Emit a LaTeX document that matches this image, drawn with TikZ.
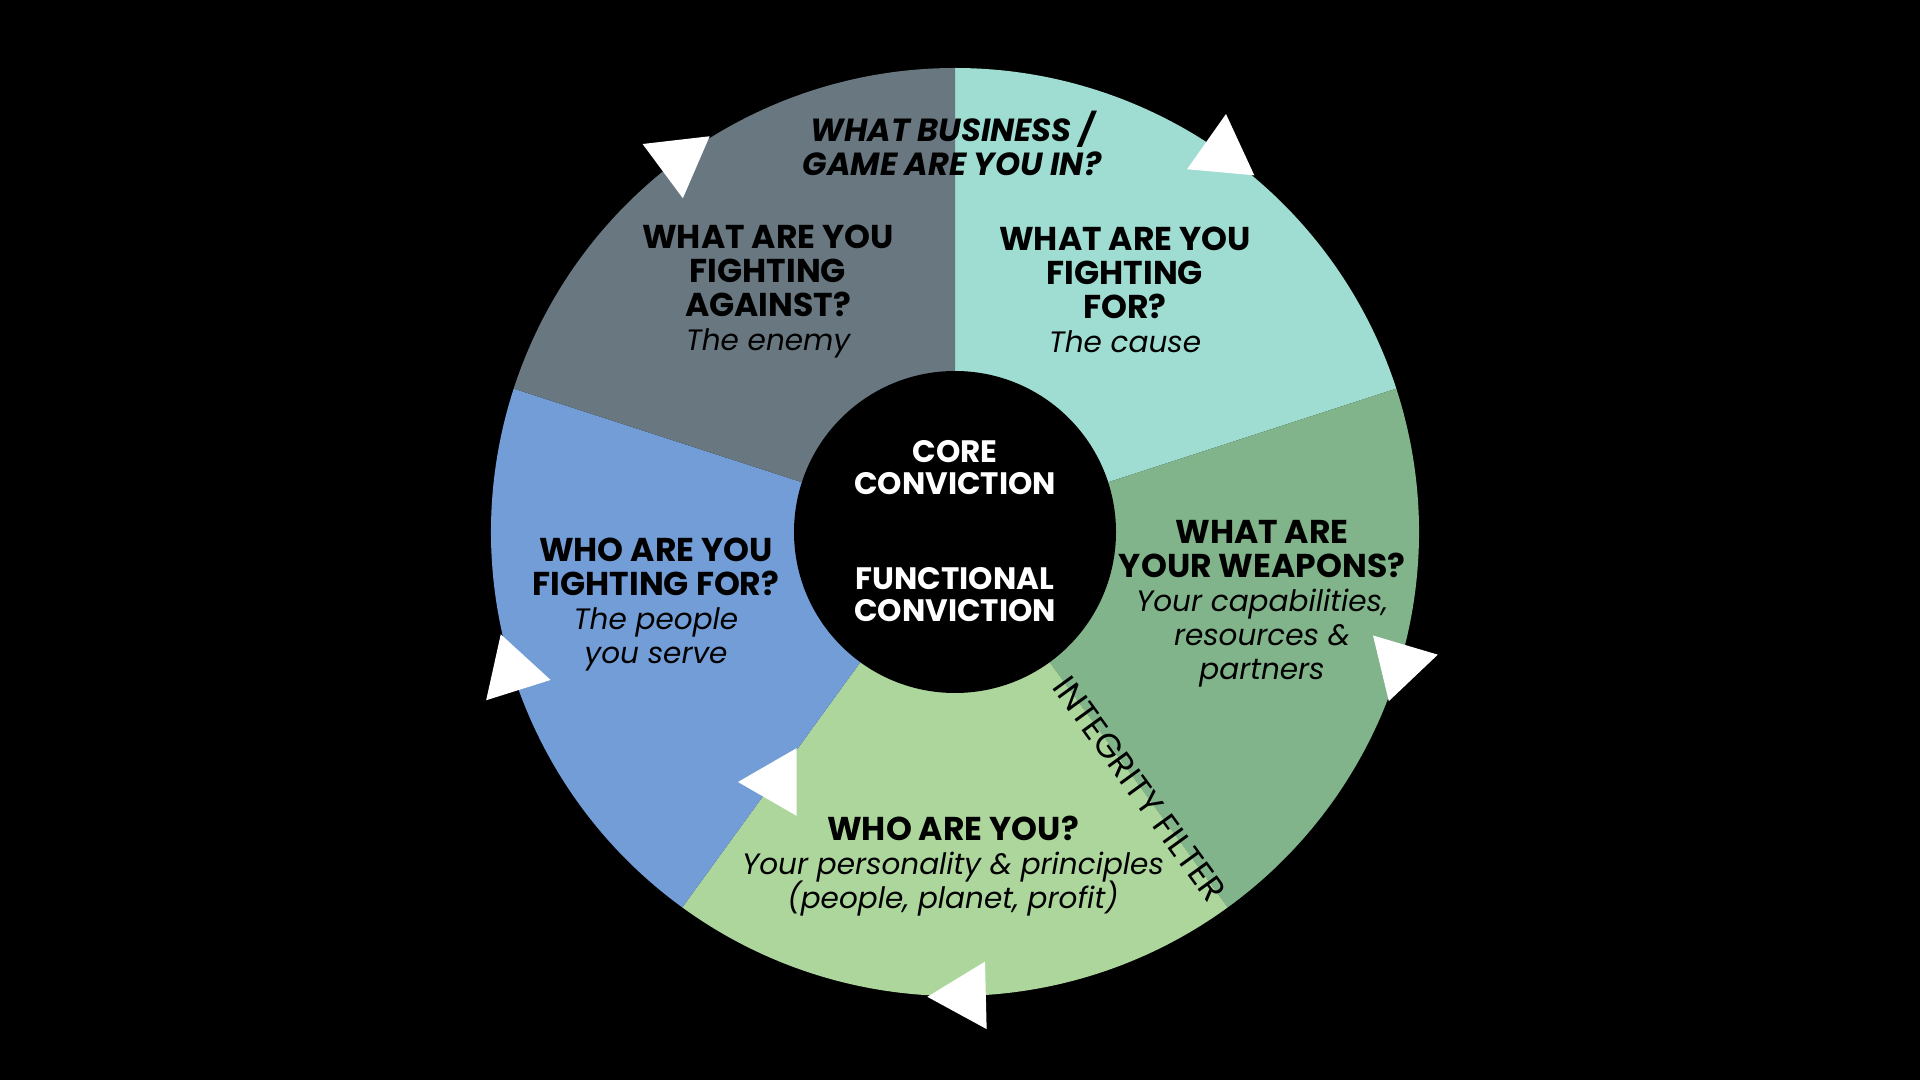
\documentclass[tikz,border=0pt]{standalone}
\usepackage{fontspec}
\setmainfont{Poppins}
\usetikzlibrary{calc}
\definecolor{cgrey}{RGB}{104,119,128}
\definecolor{cteal}{RGB}{159,221,210}
\definecolor{cdgreen}{RGB}{129,180,139}
\definecolor{clgreen}{RGB}{173,214,157}
\definecolor{cblue}{RGB}{114,157,214}
\newcommand{\hb}[1]{{\fontsize{33}{34}\selectfont\bfseries #1}}
\newcommand{\hi}[1]{{\fontsize{29.5}{34}\selectfont\itshape #1}}
\newcommand{\hbi}[1]{{\fontsize{32}{34}\selectfont\bfseries\itshape #1}}
\tikzset{
  lbl/.style={align=center, inner sep=0pt, text=black, font=\fontsize{31}{34}\selectfont},
  clbl/.style={align=center, inner sep=0pt, text=white, font=\fontsize{31}{32}\selectfont\bfseries},
  tri/.style={fill=white},
}
\newcommand{\wedgeR}{464}
\begin{document}
\lineskiplimit=-100pt
\begin{tikzpicture}[x=1pt,y=1pt]
\useasboundingbox (0,0) rectangle (1920,1080);
\fill[black] (0,0) rectangle (1920,1080);
\coordinate (C) at (955,548);
% segments
\fill[cteal]   (C) -- ++(90:\wedgeR)   arc[start angle=90,  end angle=18,   radius=\wedgeR] -- cycle;
\fill[cdgreen] (C) -- ++(18:\wedgeR)   arc[start angle=18,  end angle=-54,  radius=\wedgeR] -- cycle;
\fill[clgreen] (C) -- ++(-54:\wedgeR)  arc[start angle=-54, end angle=-126, radius=\wedgeR] -- cycle;
\fill[cblue]   (C) -- ++(-126:\wedgeR) arc[start angle=-126,end angle=-198, radius=\wedgeR] -- cycle;
\fill[cgrey]   (C) -- ++(162:\wedgeR)  arc[start angle=162, end angle=90,   radius=\wedgeR] -- cycle;
% core
\fill[black] (C) circle[radius=161];
% arrows on the rim
\foreach \th in {54.8,-16.5,-88.6,-162.5,126.6} {
  \fill[tri] ($(C)+(\th:\wedgeR)+(\th-90:39)$) -- ($(C)+(\th:\wedgeR)+(\th+30:39)$) -- ($(C)+(\th:\wedgeR)+(\th+150:39)$) -- cycle;
}
% inner arrow
\coordinate (IA) at (777,298);
\fill[tri] ($(IA)+(180:39)$) -- ($(IA)+(60:39)$) -- ($(IA)+(-60:39)$) -- cycle;
% labels
\node[lbl] (game) at (952,937) {\hbi{WHAT BUSINESS /}\\\hbi{GAME ARE YOU IN?}};
\node[lbl] (against) at (768,788) {\hb{WHAT ARE YOU}\\\hb{FIGHTING}\\\hb{AGAINST?}\\\hi{The enemy}};
\node[lbl] (cause) at (1125,790) {\hb{WHAT ARE YOU}\\\hb{FIGHTING}\\\hb{FOR?}\\\hi{The cause}};
\node[lbl] (weapons) at (1262,476) {\hb{WHAT ARE}\\\hb{YOUR WEAPONS?}\\\hi{Your capabilities,}\\\hi{resources \&}\\\hi{partners}};
\node[lbl] (you) at (953,214) {\hb{WHO ARE YOU?}\\\hi{Your personality \& principles}\\\hi{(people, planet, profit)}};
\node[lbl] (people) at (656,475) {\hb{WHO ARE YOU}\\\hb{FIGHTING FOR?}\\\hi{The people}\\\hi{you serve}};
\node[clbl] (core) at (955,612) {CORE\\CONVICTION};
\node[clbl] (func) at (955,485) {FUNCTIONAL\\CONVICTION};
\node[lbl, rotate=-54, font=\fontsize{34}{34}\selectfont] (filter) at ($(C)+(-54.3:316)$) {INTEGRITY FILTER};
\end{tikzpicture}
\end{document}
